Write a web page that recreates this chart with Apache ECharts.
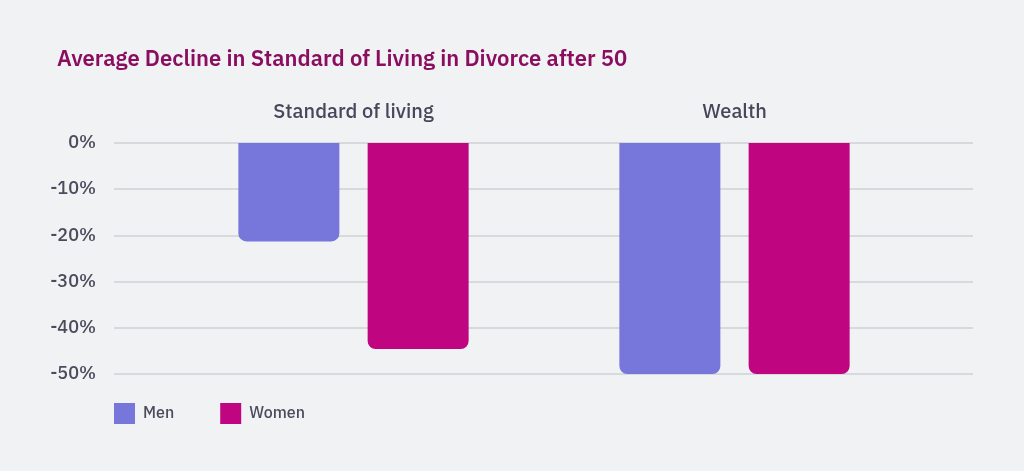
<!DOCTYPE html>
<html><head><meta charset="utf-8">
<script src="https://cdn.jsdelivr.net/npm/echarts@6/dist/echarts.min.js"></script>
<style>html,body{margin:0;padding:0;background:#f1f2f4;}#c{width:1024px;height:471px;}</style>
</head><body><div id="c"></div>
<script>
var categories = ['Standard of living', 'Wealth'];
var menValues = [-21.3, -50];
var womenValues = [-44.6, -50];
var seriesNames = ['Men', 'Women'];
var yTicks = { min: -50, max: 0, interval: 10 };

var font = 'IBM Plex Sans, Inter, Noto Sans, sans-serif';
var chart = echarts.init(document.getElementById('c'));
chart.setOption({
  backgroundColor: '#f1f2f4',
  textStyle: { fontFamily: font },
  title: {
    text: 'Average Decline in Standard of Living in Divorce after 50',
    left: 52, top: 44,
    textStyle: { color: '#8a0d5f', fontSize: 22, fontWeight: 600, fontFamily: font }
  },
  legend: {
    left: 114, top: 403, padding: 0,
    itemWidth: 21, itemHeight: 21, itemGap: 46,
    icon: 'rect',
    textStyle: { color: '#4a4b5c', fontSize: 16, fontWeight: 500, fontFamily: font, padding: [0,0,0,3] },
    data: seriesNames
  },
  grid: [
    { left: 114, right: 51, top: 143, height: 231 },
    { left: 163, right: 99, top: 143, height: 231 }
  ],
  xAxis: [
    { gridIndex: 0, type: 'value', show: false, min: 0, max: 1 },
    { gridIndex: 1, type: 'category', position: 'top', data: categories,
      axisLine: { show: false }, axisTick: { show: false },
      axisLabel: { color: '#45475a', fontSize: 20, fontWeight: 500, margin: 21, fontFamily: font } }
  ],
  yAxis: [
    { gridIndex: 0, type: 'value', min: yTicks.min, max: yTicks.max, interval: yTicks.interval,
      axisLine: { show: false }, axisTick: { show: false },
      axisLabel: { color: '#4a4b5c', fontSize: 18, fontWeight: 500, margin: 18, formatter: function(v){ return v + '%'; }, fontFamily: font },
      splitLine: { lineStyle: { color: '#cfd0d5', width: 1.5 } } },
    { gridIndex: 1, type: 'value', min: yTicks.min, max: yTicks.max, interval: yTicks.interval, show: false,
      splitLine: { show: false } }
  ],
  series: [
    { name: seriesNames[0], type: 'bar', xAxisIndex: 1, yAxisIndex: 1, data: menValues,
      barWidth: 101, barGap: '28%',
      itemStyle: { color: '#7776db', borderRadius: [0, 0, 8, 8] } },
    { name: seriesNames[1], type: 'bar', xAxisIndex: 1, yAxisIndex: 1, data: womenValues,
      barWidth: 101, barGap: '28%',
      itemStyle: { color: '#bf0580', borderRadius: [0, 0, 8, 8] } }
  ]
});
</script></body></html>
